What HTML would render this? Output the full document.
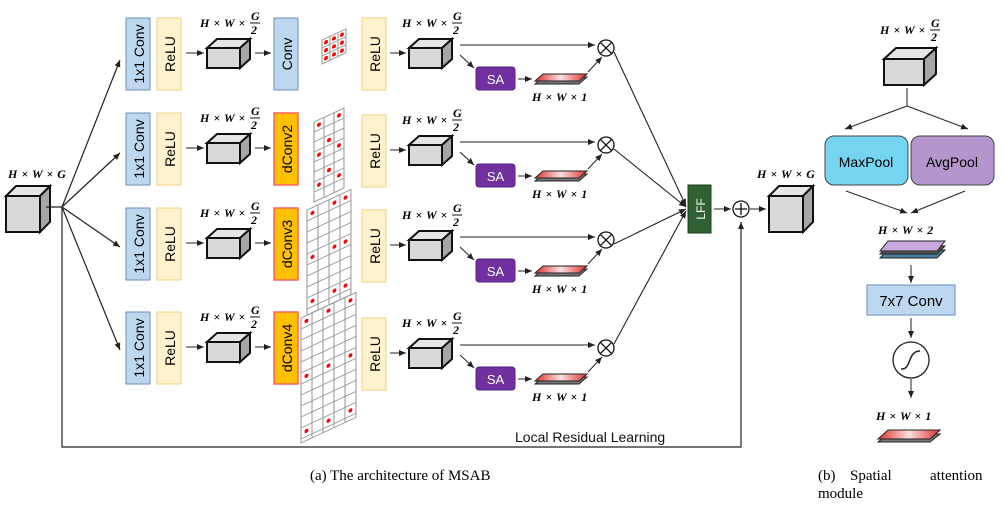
<!DOCTYPE html>
<html><head><meta charset="utf-8"><style>
body{margin:0;background:#fff}
svg{display:block}
.t{font-family:"Liberation Sans",sans-serif}
.m{font-family:"Liberation Serif",serif;font-style:italic;font-weight:bold;font-size:12px;word-spacing:1px}
</style></head><body>
<svg width="1005" height="510" viewBox="0 0 1005 510" xmlns="http://www.w3.org/2000/svg">
<defs>
<marker id="a" markerWidth="8" markerHeight="8" refX="7" refY="4" orient="auto" markerUnits="userSpaceOnUse"><path d="M0,1 L7,4 L0,7z" fill="#222"/></marker>
<g id="cube"><rect x="0" y="9" width="33" height="20" fill="#d9d9d9" stroke="#111" stroke-width="2"/><polygon points="0,9 10,0 43,0 33,9" fill="#e6e6e6" stroke="#111" stroke-width="2"/><polygon points="33,9 43,0 43,20 33,29" fill="#a6a6a6" stroke="#111" stroke-width="2"/></g>
<g id="bcube"><rect x="0" y="10" width="34" height="36" fill="#d9d9d9" stroke="#111" stroke-width="2"/><polygon points="0,10 10,0 44,0 34,10" fill="#e6e6e6" stroke="#111" stroke-width="2"/><polygon points="34,10 44,0 44,36 34,46" fill="#a6a6a6" stroke="#111" stroke-width="2"/></g>
<linearGradient id="rg" x1="0" x2="1"><stop offset="0" stop-color="#e03030"/><stop offset="0.5" stop-color="#fbe0e0"/><stop offset="1" stop-color="#e03030"/></linearGradient>
<g id="slab"><polygon points="0,12 44,12 52,5 8,5" fill="#777" stroke="#222"/><polygon points="0,9 44,9 52,2 8,2" fill="url(#rg)" stroke="#222"/></g>
<pattern id="c8" width="8" height="8" patternUnits="userSpaceOnUse"><rect width="8" height="8" fill="#fff" stroke="#999" stroke-width="1"/></pattern>
<pattern id="c10" width="10" height="10" patternUnits="userSpaceOnUse"><rect width="10" height="10" fill="#fff" stroke="#999" stroke-width="1"/></pattern>
<pattern id="c11" width="11" height="11" patternUnits="userSpaceOnUse"><rect width="11" height="11" fill="#fff" stroke="#999" stroke-width="1"/></pattern>
<g id="otimes"><circle r="8" fill="#fff" stroke="#111" stroke-width="1.3"/><path d="M-5.6,-5.6L5.6,5.6M5.6,-5.6L-5.6,5.6" stroke="#111" stroke-width="1.3"/></g>
<g id="frac"><text x="0" y="13" class="m">H × W ×</text><text x="51" y="6" class="m">G</text><line x1="50" y1="9" x2="60" y2="9" stroke="#111"/><text x="51" y="20" class="m">2</text></g>
</defs>

<text x="8" y="178" class="m">H × W × G</text>
<use href="#bcube" x="6" y="186"/>
<path d="M46,207 H62 V447 H741 V222" fill="none" stroke="#222" stroke-width="1.2" marker-end="url(#a)"/>
<line x1="62" y1="207" x2="120" y2="60" stroke="#222" stroke-width="1.2" marker-end="url(#a)"/>
<line x1="62" y1="207" x2="120" y2="153" stroke="#222" stroke-width="1.2" marker-end="url(#a)"/>
<line x1="62" y1="207" x2="120" y2="247" stroke="#222" stroke-width="1.2" marker-end="url(#a)"/>
<line x1="62" y1="207" x2="120" y2="350" stroke="#222" stroke-width="1.2" marker-end="url(#a)"/>
<text x="515" y="442" class="t" font-size="14" fill="#111">Local Residual Learning</text>

<g id="left1">
<rect x="126" y="18" width="24" height="72" fill="#bdd7ee" stroke="#6b8fb8"/><text transform="translate(144,54) rotate(-90)" text-anchor="middle" class="t" font-size="14">1x1 Conv</text>
<rect x="157" y="18" width="24" height="72" fill="#fff2cc" stroke="#f0d080"/><text transform="translate(175,54) rotate(-90)" text-anchor="middle" class="t" font-size="14">ReLU</text>
<line x1="186" y1="53" x2="204" y2="53" stroke="#222" marker-end="url(#a)"/>
<use href="#frac" x="200" y="14"/>
<use href="#cube" x="207" y="39"/>
<line x1="255" y1="53" x2="271" y2="53" stroke="#222" marker-end="url(#a)"/>
</g>
<rect x="274" y="18" width="24" height="72" fill="#bdd7ee" stroke="#6b8fb8"/><text transform="translate(292,54) rotate(-90)" text-anchor="middle" class="t" font-size="14">Conv</text>
<g transform="translate(322,40) skewY(-25)"><rect width="24" height="24" fill="url(#c8)" stroke="#999"/>
<circle cx="4" cy="4" r="2" fill="red"/><circle cx="12" cy="4" r="2" fill="red"/><circle cx="20" cy="4" r="2" fill="red"/><circle cx="4" cy="12" r="2" fill="red"/><circle cx="12" cy="12" r="2" fill="red"/><circle cx="20" cy="12" r="2" fill="red"/><circle cx="4" cy="20" r="2" fill="red"/><circle cx="12" cy="20" r="2" fill="red"/><circle cx="20" cy="20" r="2" fill="red"/></g>

<use href="#left1" y="95"/>
<rect x="274" y="113" width="24" height="72" fill="#ffc000" stroke="#ff6060" stroke-width="1.5"/><text transform="translate(292,149) rotate(-90)" text-anchor="middle" class="t" font-size="14">dConv2</text>
<use href="#left1" y="190"/>
<rect x="274" y="208" width="24" height="72" fill="#ffc000" stroke="#ff6060" stroke-width="1.5"/><text transform="translate(292,244) rotate(-90)" text-anchor="middle" class="t" font-size="14">dConv3</text>
<use href="#left1" y="294"/>
<rect x="274" y="312" width="24" height="72" fill="#ffc000" stroke="#ff6060" stroke-width="1.5"/><text transform="translate(292,348) rotate(-90)" text-anchor="middle" class="t" font-size="14">dConv4</text>

<g transform="translate(314,122) skewY(-25)"><rect width="30" height="80" fill="url(#c10)" stroke="#999"/>
<circle cx="5" cy="5" r="2" fill="red"/><circle cx="25" cy="5" r="2" fill="red"/><circle cx="5" cy="35" r="2" fill="red"/><circle cx="15" cy="25" r="2" fill="red"/><circle cx="25" cy="35" r="2" fill="red"/><circle cx="5" cy="65" r="2" fill="red"/><circle cx="15" cy="55" r="2" fill="red"/><circle cx="25" cy="65" r="2" fill="red"/></g>
<g transform="translate(307,210) skewY(-25)"><rect width="44" height="105" fill="url(#c11)" stroke="#999"/>
<circle cx="5.5" cy="5.5" r="2" fill="red"/><circle cx="27.5" cy="5.5" r="2" fill="red"/><circle cx="38.5" cy="5.5" r="2" fill="red"/><circle cx="5.5" cy="49.5" r="2" fill="red"/><circle cx="27.5" cy="49.5" r="2" fill="red"/><circle cx="38.5" cy="49.5" r="2" fill="red"/><circle cx="5.5" cy="93.5" r="2" fill="red"/><circle cx="27.5" cy="93.5" r="2" fill="red"/><circle cx="38.5" cy="93.5" r="2" fill="red"/></g>
<g transform="translate(301,318) skewY(-25)"><rect width="55" height="125" fill="url(#c11)" stroke="#999"/>
<circle cx="5.5" cy="5.5" r="2" fill="red"/><circle cx="27.5" cy="5.5" r="2" fill="red"/><circle cx="49.5" cy="5.5" r="2" fill="red"/><circle cx="5.5" cy="60.5" r="2" fill="red"/><circle cx="27.5" cy="60.5" r="2" fill="red"/><circle cx="49.5" cy="60.5" r="2" fill="red"/><circle cx="5.5" cy="115.5" r="2" fill="red"/><circle cx="27.5" cy="115.5" r="2" fill="red"/><circle cx="49.5" cy="115.5" r="2" fill="red"/></g>

<g id="h1">
<rect x="362" y="18" width="24" height="72" fill="#fff2cc" stroke="#f0d080"/><text transform="translate(380,54) rotate(-90)" text-anchor="middle" class="t" font-size="14">ReLU</text>
<line x1="390" y1="53" x2="406" y2="53" stroke="#222" marker-end="url(#a)"/>
<use href="#frac" x="402" y="14"/>
<use href="#cube" x="409" y="39"/>
<line x1="460" y1="45" x2="595" y2="45" stroke="#222" marker-end="url(#a)"/>
<line x1="460" y1="55" x2="474" y2="68" stroke="#222" marker-end="url(#a)"/>
<rect x="476" y="67" width="39" height="23" rx="3" fill="#7030a0" stroke="#5a2080"/><text x="495.5" y="84" text-anchor="middle" class="t" font-size="13" fill="#fff">SA</text>
<line x1="518" y1="79" x2="532" y2="79" stroke="#222" marker-end="url(#a)"/>
<use href="#slab" x="535" y="72"/>
<text x="532" y="101" class="m">H × W × 1</text>
<line x1="588" y1="72" x2="602" y2="57" stroke="#222" marker-end="url(#a)"/>
<use href="#otimes" x="606" y="48"/>
</g>
<use href="#h1" y="97"/>
<use href="#h1" y="192"/>
<use href="#h1" y="300"/>

<line x1="614" y1="52" x2="686" y2="206" stroke="#222" stroke-width="1.1" marker-end="url(#a)"/>
<line x1="614" y1="149" x2="686" y2="207" stroke="#222" stroke-width="1.1" marker-end="url(#a)"/>
<line x1="614" y1="244" x2="686" y2="209" stroke="#222" stroke-width="1.1" marker-end="url(#a)"/>
<line x1="614" y1="344" x2="686" y2="211" stroke="#222" stroke-width="1.1" marker-end="url(#a)"/>
<rect x="688" y="185" width="23" height="48" fill="#2e6030" stroke="#1d401e"/><text transform="translate(705,209) rotate(-90)" text-anchor="middle" class="t" font-size="12" fill="#fff">LFF</text>
<line x1="714" y1="209" x2="731" y2="209" stroke="#222" marker-end="url(#a)"/>
<circle cx="741" cy="209" r="8" fill="#fff" stroke="#111" stroke-width="1.3"/><path d="M735,209H747M741,203V215" stroke="#111" stroke-width="1.3"/>
<line x1="750" y1="209" x2="766" y2="209" stroke="#222" marker-end="url(#a)"/>
<text x="757" y="178" class="m">H × W × G</text>
<use href="#bcube" x="769" y="186"/>

<use href="#frac" x="880" y="21"/>
<g transform="translate(884,48)"><rect x="0" y="11" width="40" height="26" fill="#d9d9d9" stroke="#111" stroke-width="2"/><polygon points="0,11 12,0 52,0 40,11" fill="#e6e6e6" stroke="#111" stroke-width="2"/><polygon points="40,11 52,0 52,26 40,37" fill="#a6a6a6" stroke="#111" stroke-width="2"/></g>
<path d="M907,88 V106" stroke="#222"/>
<line x1="907" y1="106" x2="845" y2="129" stroke="#222" marker-end="url(#a)"/>
<line x1="907" y1="106" x2="968" y2="129" stroke="#222" marker-end="url(#a)"/>
<rect x="825" y="136" width="83" height="49" rx="9" fill="#75d5f0" stroke="#444"/><text x="866" y="167" text-anchor="middle" class="t" font-size="14">MaxPool</text>
<rect x="911" y="136" width="83" height="49" rx="9" fill="#b496cc" stroke="#444"/><text x="952" y="167" text-anchor="middle" class="t" font-size="14">AvgPool</text>
<line x1="846" y1="191" x2="907" y2="213" stroke="#222" marker-end="url(#a)"/>
<line x1="965" y1="191" x2="911" y2="213" stroke="#222" marker-end="url(#a)"/>
<text x="878" y="234" class="m">H × W × 2</text>
<polygon points="880,258 937,258 945,250 888,250" fill="#4a7fa0" stroke="#222"/>
<polygon points="880,254 937,254 945,246 888,246" fill="#555" stroke="#222"/>
<polygon points="880,251 937,251 945,241 888,241" fill="#c8a8e0" stroke="#222"/>
<line x1="911" y1="265" x2="911" y2="283" stroke="#222" marker-end="url(#a)"/>
<rect x="867" y="285" width="88" height="30" fill="#bdd7ee" stroke="#6b8fb8"/><text x="911" y="306" text-anchor="middle" class="t" font-size="15">7x7 Conv</text>
<line x1="911" y1="318" x2="911" y2="338" stroke="#222" marker-end="url(#a)"/>
<circle cx="911" cy="360" r="18" fill="#fff" stroke="#222" stroke-width="1.3"/>
<path d="M901,369 C912,370 907,351 920,351" stroke="#222" fill="none" stroke-width="1.5"/>
<line x1="911" y1="379" x2="911" y2="398" stroke="#222" marker-end="url(#a)"/>
<text x="876" y="420" class="m">H × W × 1</text>
<g transform="translate(878,427)"><polygon points="0,15 52,15 62,7 10,7" fill="#777" stroke="#222"/><polygon points="0,12 52,12 62,3 10,3" fill="url(#rg)" stroke="#222"/></g>

<text x="310" y="480" font-family="Liberation Serif,serif" font-size="15">(a) The architecture of MSAB</text>
<text x="818" y="480" font-family="Liberation Serif,serif" font-size="15">(b)</text>
<text x="850" y="480" font-family="Liberation Serif,serif" font-size="15">Spatial</text>
<text x="930" y="480" font-family="Liberation Serif,serif" font-size="15">attention</text>
<text x="818" y="498" font-family="Liberation Serif,serif" font-size="15">module</text>
</svg>
</body></html>
